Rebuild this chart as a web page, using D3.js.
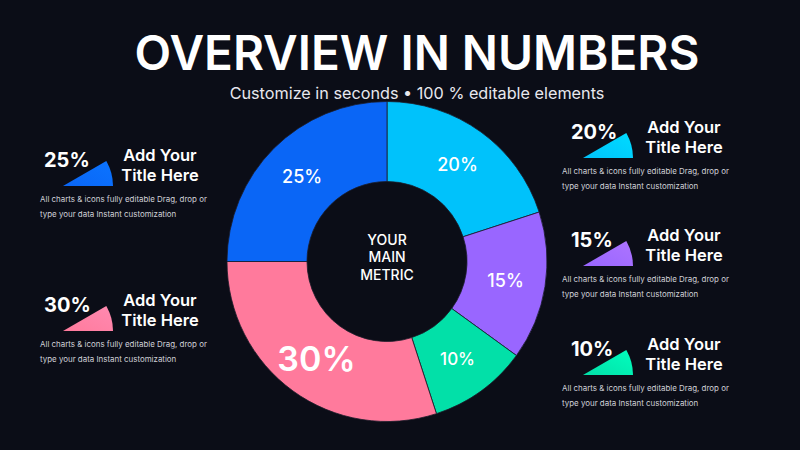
<!DOCTYPE html>
<html><head><meta charset="utf-8">
<script src="https://cdn.jsdelivr.net/npm/d3@7/dist/d3.min.js"></script>
<style>
html,body{margin:0;padding:0;background:#0b0d17;}
svg{display:block;}
text{font-family:Inter,"Noto Sans",sans-serif;}
</style></head>
<body>
<svg id="c" width="800" height="450"></svg>
<script>
// ---- data ----
const segNames   = ["Segment A","Segment B","Segment C","Segment D","Segment E"];
const segValues  = [20, 15, 10, 30, 25];
const segColors  = ["#00c2fb", "#9966ff", "#02e0a8", "#ff7a9c", "#0a66f6"];
const segLabelSize = [18, 18, 17, 34, 18];

const panelValues = [25, 30, 20, 15, 10];
const panelColors = ["#0a66f6", "#ff7a9c", "#00c2fb", "#9966ff", "#02e0a8"];
const panelTitle1 = "Add Your";
const panelTitle2 = "Title Here";
const panelDesc1 = "All charts & icons fully editable Drag, drop or";
const panelDesc2 = "type your data Instant customization";

const titleText = "OVERVIEW IN NUMBERS";
const subtitleText = "Customize in seconds \u2022 100 % editable elements";
const centerLines = ["YOUR", "MAIN", "METRIC"];

// ---- layout ----
const svg = d3.select("#c");
svg.append("rect").attr("width",800).attr("height",450).attr("fill","#0b0d17");

// title
const t = svg.append("text").attr("x",417).attr("y",70).attr("text-anchor","middle")
  .attr("fill","#ffffff").attr("font-weight",600).attr("font-size",46).text(titleText);
let tw = t.node().getComputedTextLength();
if (tw > 0) t.attr("font-size", 46*565/tw);

const st = svg.append("text").attr("x",417).attr("y",99).attr("text-anchor","middle")
  .attr("fill","#e8e8ee").attr("font-weight",400).attr("font-size",16.5).text(subtitleText);
let sw = st.node().getComputedTextLength();
if (sw > 0) st.attr("font-size", 16.5*375/sw);

// donut
const cx = 387, cy = 261.5;
const pie = d3.pie().sort(null).value(d => d).startAngle(0).endAngle(2*Math.PI);
const arcs = pie(segValues);
const arc = d3.arc().innerRadius(80).outerRadius(160);
const g = svg.append("g").attr("transform",`translate(${cx},${cy})`);
g.selectAll("path.seg").data(arcs).join("path").attr("class","seg")
  .attr("d",arc).attr("fill",(d,i)=>segColors[i])
  .attr("stroke","#1a1c2a").attr("stroke-width",0.8);

const labelArc = d3.arc().innerRadius(120).outerRadius(120);
g.selectAll("text.lab").data(arcs).join("text").attr("class","lab")
  .attr("transform",d=>`translate(${labelArc.centroid(d)})`)
  .attr("text-anchor","middle").attr("dominant-baseline","central")
  .attr("fill","#ffffff").attr("font-weight",(d,i)=>i===3?600:500)
  .attr("font-size",(d,i)=>segLabelSize[i])
  .text(d=>d.data+"%");

g.selectAll("text.ctr").data(centerLines).join("text").attr("class","ctr")
  .attr("x",0).attr("y",(d,i)=>-17+i*17.8)
  .attr("text-anchor","middle").attr("fill","#ffffff")
  .attr("font-weight",500).attr("font-size",14).text(d=>d);

// side panels (apex positions of wedge icons)
const panelPos = [
  {x:63, y:186, ox:19},
  {x:63, y:331, ox:19},
  {x:583, y:158, ox:12},
  {x:583, y:266, ox:12},
  {x:583, y:375, ox:12}
];
const wedge = d3.arc().innerRadius(0).outerRadius(50).startAngle(Math.PI/3).endAngle(Math.PI/2);
const defs = svg.append("defs");
panelValues.forEach((v,i)=>{
  const p = panelPos[i];
  const grd = defs.append("linearGradient").attr("id","wg"+i)
    .attr("x1","0").attr("y1","1").attr("x2","1").attr("y2","0");
  grd.append("stop").attr("offset","0").attr("stop-color",panelColors[i]);
  grd.append("stop").attr("offset","1").attr("stop-color",d3.color(panelColors[i]).brighter(0.35));
  const pg = svg.append("g").attr("transform",`translate(${p.x},${p.y})`);
  pg.append("path").attr("d",wedge).attr("fill",`url(#wg${i})`);
  pg.append("text").attr("x",-p.ox).attr("y",-19.5).attr("fill","#ffffff")
    .attr("font-weight",700).attr("font-size",20).text(v+"%");
  pg.append("text").attr("x",p.ox===19?97:101).attr("y",-25).attr("text-anchor","middle")
    .attr("fill","#ffffff").attr("font-weight",600).attr("font-size",16.5).text(panelTitle1);
  pg.append("text").attr("x",p.ox===19?97:101).attr("y",-5.5).attr("text-anchor","middle")
    .attr("fill","#ffffff").attr("font-weight",600).attr("font-size",16.5).text(panelTitle2);
  const d1 = pg.append("text").attr("x",p.ox===19?-23:-21).attr("y",15.5).attr("fill","#d0d1d8")
    .attr("font-size",8.6).text(panelDesc1);
  const w1 = d1.node().getComputedTextLength();
  if (w1>0) d1.attr("font-size",8.6*167/w1);
  const d2 = pg.append("text").attr("x",p.ox===19?-23:-21).attr("y",30.5).attr("fill","#d0d1d8")
    .attr("font-size",+d1.attr("font-size")).text(panelDesc2);
});
</script>
</body></html>
